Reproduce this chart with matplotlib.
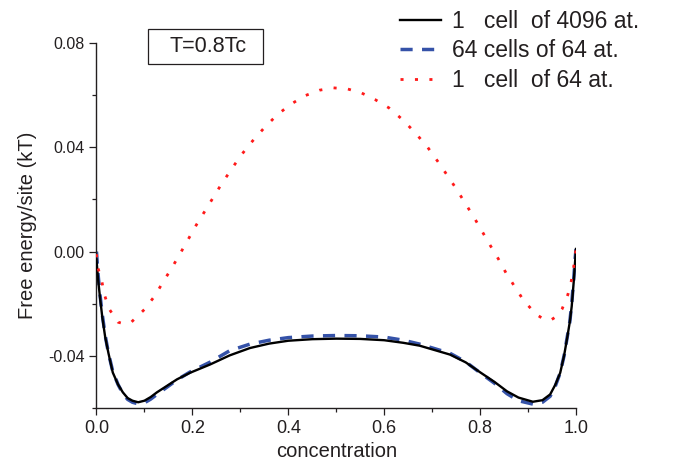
import matplotlib

matplotlib.use("Agg")
import matplotlib.pyplot as plt
from matplotlib.patches import Rectangle
from matplotlib.ticker import FuncFormatter, MultipleLocator

plt.rcParams["font.family"] = ["Liberation Sans", "DejaVu Sans"]
plt.rcParams["axes.unicode_minus"] = False

# values
conc_big = [0.000, 0.003, 0.007, 0.012, 0.018, 0.025, 0.034, 0.045, 0.055, 0.065,
            0.075, 0.087, 0.100, 0.113, 0.126, 0.147, 0.168, 0.195, 0.237, 0.278,
            0.320, 0.360, 0.400, 0.450, 0.500, 0.550, 0.600, 0.640, 0.674, 0.737,
            0.770, 0.800, 0.830, 0.856, 0.880, 0.910, 0.930, 0.946, 0.957, 0.967,
            0.975, 0.981, 0.987, 0.991, 0.995, 0.998, 1.000]
f_big = [-0.0030, -0.0100, -0.0170, -0.0250, -0.0326, -0.0390, -0.0464, -0.0510,
         -0.0540, -0.0562, -0.0572, -0.0578, -0.0572, -0.0558, -0.0540, -0.0515,
         -0.0490, -0.0465, -0.0433, -0.0398, -0.0370, -0.0353, -0.0342, -0.0336,
         -0.0334, -0.0335, -0.0340, -0.0350, -0.0361, -0.0395, -0.0425, -0.0463,
         -0.0500, -0.0536, -0.0560, -0.0576, -0.0570, -0.0548, -0.0510, -0.0465,
         -0.0400, -0.0337, -0.0270, -0.0210, -0.0120, -0.0040, 0.0010]

conc_multi = conc_big
f_multi = [0.0000, -0.0080, -0.0160, -0.0240, -0.0320, -0.0390, -0.0460, -0.0510,
           -0.0545, -0.0567, -0.0578, -0.0584, -0.0580, -0.0566, -0.0548, -0.0520,
           -0.0492, -0.0462, -0.0424, -0.0380, -0.0355, -0.0340, -0.0330, -0.0324,
           -0.0322, -0.0323, -0.0328, -0.0340, -0.0355, -0.0390, -0.0423, -0.0465,
           -0.0505, -0.0545, -0.0572, -0.0585, -0.0578, -0.0555, -0.0515, -0.0465,
           -0.0400, -0.0335, -0.0270, -0.0200, -0.0110, -0.0030, 0.0010]

conc_small = [0.000, 0.002, 0.011, 0.016, 0.026, 0.045, 0.060, 0.073, 0.100, 0.122,
              0.139, 0.157, 0.174, 0.191, 0.2075, 0.225, 0.243, 0.261, 0.2805, 0.300,
              0.323, 0.349, 0.377, 0.406, 0.435, 0.465, 0.494, 0.523, 0.552, 0.581,
              0.610, 0.639, 0.666, 0.691, 0.712, 0.732, 0.751, 0.769, 0.787, 0.804,
              0.821, 0.838, 0.854, 0.873, 0.892, 0.918, 0.935, 0.947, 0.960, 0.971,
              0.983, 0.990, 0.995, 0.999, 1.000]
f_small = [-0.0010, -0.0056, -0.0112, -0.0162, -0.0219, -0.0271, -0.0278, -0.0270,
           -0.0222, -0.0169, -0.0116, -0.0063, -0.0009, 0.0046, 0.0100, 0.0152,
           0.0206, 0.0260, 0.0313, 0.0366, 0.0419, 0.0473, 0.0525, 0.0566, 0.0598,
           0.0619, 0.0628, 0.0624, 0.0609, 0.0583, 0.0551, 0.0505, 0.0453, 0.0399,
           0.0345, 0.0291, 0.0239, 0.0185, 0.0132, 0.0078, 0.0024, -0.0028, -0.0082,
           -0.0137, -0.0191, -0.0242, -0.0262, -0.0263, -0.0248, -0.0220, -0.0165,
           -0.0114, -0.0060, -0.0005, 0.0010]

labels = ["1   cell  of 4096 at.", "64 cells of 64 at.", "1   cell  of 64 at."]
temp_label = "T=0.8Tc"

TXT = "#231f20"

fig = plt.figure(figsize=(6.78, 4.68), dpi=100)
ax = fig.add_axes([0.1423, 0.1282, 0.7073, 0.7799])

ax.plot(conc_big, f_big, color="black", lw=1.7, label=labels[0], zorder=3)
ax.plot(conc_multi, f_multi, color="#3552a8", lw=2.5, dashes=(3.5, 2.7),
        label=labels[1], zorder=2)
ax.plot(conc_small, f_small, color="#ff1a1a", lw=2.0, dashes=(1.1, 4.1),
        label=labels[2], zorder=4)

ax.set_xlim(0, 1.0)
ax.set_ylim(-0.06, 0.08)
ax.xaxis.set_major_locator(MultipleLocator(0.2))
ax.xaxis.set_minor_locator(MultipleLocator(0.1))
ax.yaxis.set_major_locator(MultipleLocator(0.04))
ax.yaxis.set_minor_locator(MultipleLocator(0.02))
ax.xaxis.set_major_formatter(FuncFormatter(lambda v, _: f"{v:.1f}"))
ax.yaxis.set_major_formatter(FuncFormatter(lambda v, _: f"{v:.2f}"))

for side in ("top", "right"):
    ax.spines[side].set_visible(False)
for side in ("left", "bottom"):
    ax.spines[side].set_linewidth(1.0)
    ax.spines[side].set_color(TXT)

ax.tick_params(axis="both", which="major", direction="out", length=5, width=0.9,
               color=TXT, labelcolor=TXT, pad=3.5)
ax.tick_params(axis="both", which="minor", direction="out", length=3, width=0.9,
               color=TXT)
ax.tick_params(axis="x", labelsize=13)
ax.tick_params(axis="y", labelsize=11.5)

ax.set_xlabel("concentration", fontsize=14.5, color=TXT, labelpad=4)
ax.set_ylabel("Free energy/site (kT)", fontsize=14.5, color=TXT, labelpad=8)

# temperature box
fig.add_artist(Rectangle((148 / 678, 1 - 64 / 468), 115 / 678, 35 / 468,
                         transform=fig.transFigure, fill=False, lw=0.9,
                         edgecolor=TXT))
fig.text(208 / 678, 1 - 46.5 / 468, temp_label, fontsize=15.5, color=TXT,
         ha="center", va="center")

leg = fig.legend(loc="upper left", bbox_to_anchor=(400 / 678, 1 - 10 / 468),
                 frameon=False, fontsize=16.5, handlelength=1.8,
                 handletextpad=0.45, labelspacing=0.28, borderpad=0,
                 borderaxespad=0)
for t in leg.get_texts():
    t.set_color(TXT)

fig.savefig("out.png", dpi=100)
